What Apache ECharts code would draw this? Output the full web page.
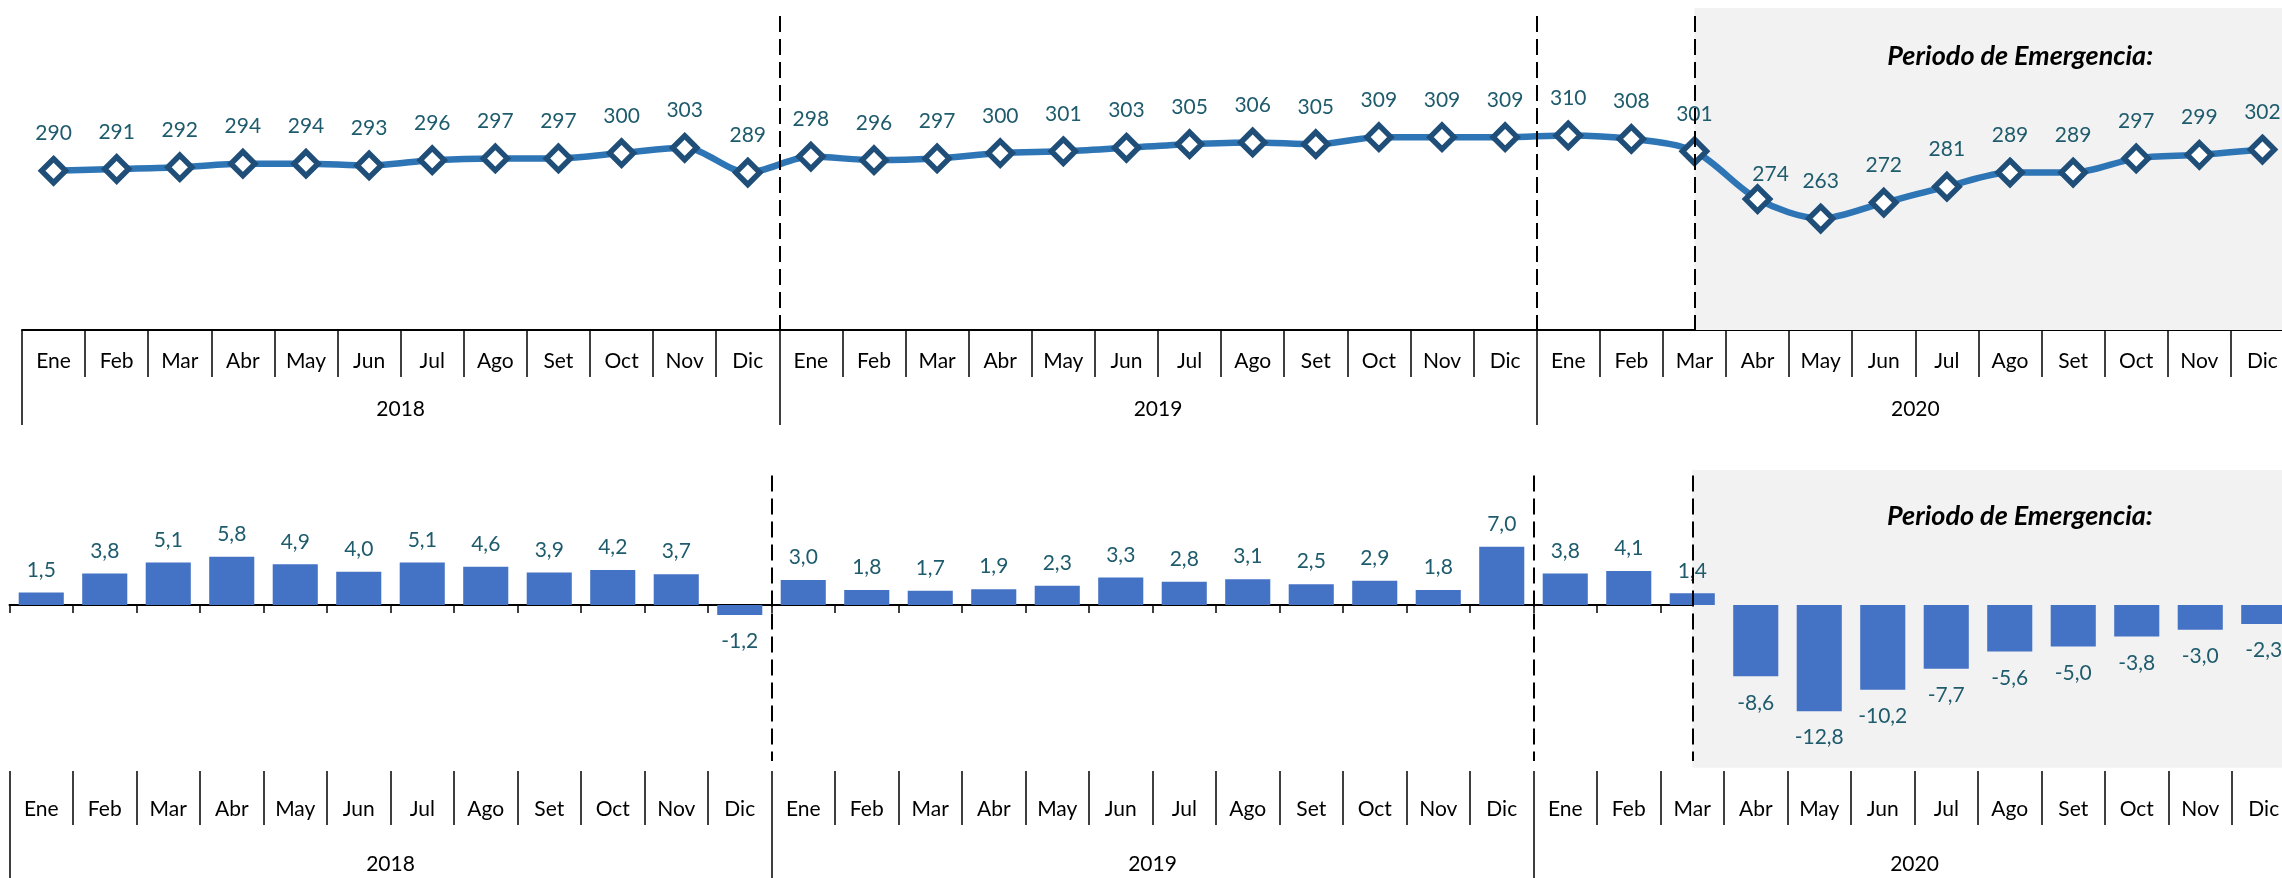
<!DOCTYPE html>
<html>
<head>
<meta charset="utf-8">
<script src="https://cdn.jsdelivr.net/npm/echarts@6/dist/echarts.min.js"></script>
<style>
  html, body { margin: 0; padding: 0; background: #fff; }
  #chart { width: 2282px; height: 878px; }
</style>
</head>
<body>
<div id="chart"></div>
<script>
// Meses y años del eje
const months = ['Ene', 'Feb', 'Mar', 'Abr', 'May', 'Jun', 'Jul', 'Ago', 'Set', 'Oct', 'Nov', 'Dic'];
const years = ['2018', '2019', '2020'];

// Serie superior (nivel)
const level2018 = [290, 291, 292, 294, 294, 293, 296, 297, 297, 300, 303, 289];
const level2019 = [298, 296, 297, 300, 301, 303, 305, 306, 305, 309, 309, 309];
const level2020 = [310, 308, 301, 274, 263, 272, 281, 289, 289, 297, 299, 302];

// Serie inferior (variación %)
const change2018 = [1.5, 3.8, 5.1, 5.8, 4.9, 4.0, 5.1, 4.6, 3.9, 4.2, 3.7, -1.2];
const change2019 = [3.0, 1.8, 1.7, 1.9, 2.3, 3.3, 2.8, 3.1, 2.5, 2.9, 1.8, 7.0];
const change2020 = [3.8, 4.1, 1.4, -8.6, -12.8, -10.2, -7.7, -5.6, -5.0, -3.8, -3.0, -2.3];

// Cortes de año y inicio de la emergencia (índice de mes)
const yearBreaks = [11.5, 23.5];
const emergencyStart = 26;
const emergencyLabel = 'Periodo de Emergencia:';

const categories = years.flatMap(() => months);
const levels = [...level2018, ...level2019, ...level2020];
const changes = [...change2018, ...change2019, ...change2020];

const FONT = 'Lato, "Open Sans", sans-serif';
const LABEL_COLOR = '#1E5B6C';

const chart = echarts.init(document.getElementById('chart'), null, { renderer: 'canvas' });

function monthAxis(gridIndex, opts) {
  return Object.assign({
    type: 'category',
    gridIndex,
    position: 'bottom',
    data: categories,
    boundaryGap: true,
    axisLine: { show: false, onZero: false },
    axisTick: { show: true, interval: 0, length: 47, lineStyle: { color: '#000', width: 1.5 } },
    axisLabel: { show: true, interval: 0, margin: 21, color: '#000', fontSize: 21, fontFamily: FONT },
    splitLine: { show: false },
  }, opts);
}

function yearAxis(gridIndex, tickLen, margin) {
  return {
    type: 'category',
    gridIndex,
    position: 'bottom',
    data: years,
    boundaryGap: true,
    axisLine: { show: false, onZero: false },
    axisTick: { show: true, interval: 0, length: tickLen, lineStyle: { color: '#000', width: 1.5 } },
    axisLabel: { show: true, interval: 0, margin, color: '#000', fontSize: 21, fontFamily: FONT },
    splitLine: { show: false },
  };
}

function helperAxis(gridIndex) {
  return { type: 'value', gridIndex, position: 'top', min: -0.5, max: 35.5, show: false };
}

function fmtComma(v) {
  return v.toFixed(1).replace('.', ',');
}

const dashStyle = { type: [16, 7], color: '#000', width: 2 };

function breakLines(yTop, yBottom) {
  return [...yearBreaks, emergencyStart].map((x) => [
    { xAxis: x, yAxis: yTop },
    { xAxis: x, yAxis: yBottom },
  ]);
}

function emergencyArea(yTop, yBottom) {
  return [[
    { name: emergencyLabel, xAxis: emergencyStart, yAxis: yTop },
    { xAxis: 35.5, yAxis: yBottom },
  ]];
}

const areaLabel = (distance) => ({
  show: true,
  position: 'insideTop',
  distance,
  offset: [26, 0],
  color: '#000',
  fontSize: 27,
  fontWeight: 'bold',
  fontStyle: 'italic',
  fontFamily: FONT,
});

const lineData = levels.map((v, i) => {
  // etiqueta de abril 2020 desplazada como en el original
  if (i === 27) return { value: v, label: { offset: [13, 12] } };
  return v;
});

const barData = changes.map((v) => ({
  value: v,
  label: { position: v < 0 ? 'bottom' : 'top', distance: v < 0 ? 16 : 12 },
}));

const option = {
  animation: false,
  backgroundColor: '#fff',
  grid: [
    { left: 22, top: 8, width: 2272, height: 322, outerBoundsMode: 'none' },
    { left: 9.5, top: 470, width: 2286, height: 301, outerBoundsMode: 'none' },
  ],
  xAxis: [
    monthAxis(0, {
      axisLine: { show: true, onZero: false, lineStyle: { color: '#000', width: 2 } },
    }),
    yearAxis(0, 95, 69),
    helperAxis(0),
    monthAxis(1, {
      axisLine: { show: true, onZero: true, onZeroAxisIndex: 1, lineStyle: { color: '#000', width: 2 } },
      axisTick: { show: true, interval: 0, length: 8, lineStyle: { color: '#000', width: 1.5 } },
      axisLabel: { show: false },
    }),
    monthAxis(1, {
      axisTick: { show: true, interval: 0, length: 54, lineStyle: { color: '#000', width: 1.5 } },
      axisLabel: { show: true, interval: 0, margin: 28, color: '#000', fontSize: 21, fontFamily: FONT },
    }),
    yearAxis(1, 110, 83),
    helperAxis(1),
  ],
  yAxis: [
    { type: 'value', gridIndex: 0, min: 200, max: 382, show: false },
    { type: 'value', gridIndex: 1, min: -20, max: 16.25, show: false },
  ],
  series: [
    // sombreado del periodo de emergencia (fondo)
    {
      type: 'line', xAxisIndex: 2, yAxisIndex: 0, data: [], silent: true, z: 0,
      markArea: {
        silent: true,
        itemStyle: { color: '#F2F2F2' },
        label: areaLabel(35),
        data: emergencyArea(382, 200),
      },
    },
    {
      type: 'line', xAxisIndex: 6, yAxisIndex: 1, data: [], silent: true, z: 0,
      markArea: {
        silent: true,
        itemStyle: { color: '#F2F2F2' },
        label: areaLabel(33),
        data: emergencyArea(16.25, -19.6),
      },
    },
    {
      name: 'Nivel',
      type: 'line',
      xAxisIndex: 0,
      yAxisIndex: 0,
      data: lineData,
      smooth: 0.3,
      z: 3,
      lineStyle: { color: '#2E75B6', width: 6.5 },
      symbol: 'diamond',
      symbolSize: 24,
      itemStyle: { color: '#fff', borderColor: '#1F4E79', borderWidth: 5.5 },
      label: {
        show: true,
        position: 'top',
        distance: 12,
        color: LABEL_COLOR,
        fontSize: 21,
        fontFamily: FONT,
      },
    },
    {
      name: 'Variación',
      type: 'bar',
      xAxisIndex: 3,
      yAxisIndex: 1,
      data: barData,
      barWidth: '71%',
      z: 3,
      itemStyle: { color: '#4472C4' },
      label: {
        show: true,
        color: LABEL_COLOR,
        fontSize: 21,
        fontFamily: FONT,
        formatter: (p) => fmtComma(p.value),
      },
    },
    // líneas punteadas (encima)
    {
      type: 'line', xAxisIndex: 2, yAxisIndex: 0, data: [], silent: true, z: 10,
      markLine: {
        silent: true, symbol: 'none', z: 10,
        label: { show: false },
        lineStyle: dashStyle,
        data: breakLines(377.5, 200),
      },
    },
    {
      type: 'line', xAxisIndex: 6, yAxisIndex: 1, data: [], silent: true, z: 10,
      markLine: {
        silent: true, symbol: 'none', z: 10,
        label: { show: false },
        lineStyle: dashStyle,
        data: breakLines(15.6, -18.8),
      },
    },
  ],
};

chart.setOption(option);
</script>
</body>
</html>
